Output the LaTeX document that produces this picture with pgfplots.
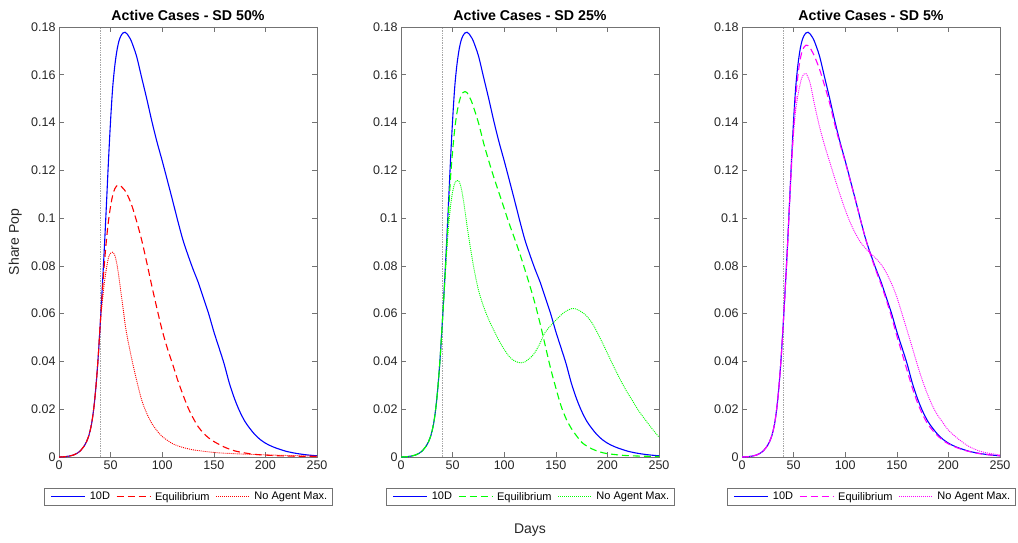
\documentclass[border=0pt]{standalone}
\usepackage{fontspec}
\setmainfont{Liberation Sans}
\usepackage{pgfplots}
\usepackage{pgfplotstable}
\pgfplotsset{compat=1.18}

% all curves share the rise up to day 40
\pgfplotstableread{
x y
0 0
5 0.0001
10 0.0004
15 0.0010
20 0.0023
25 0.0050
28 0.0078
30 0.0107
32 0.0150
34 0.0215
36 0.0305
38 0.0420
40 0.0560
42 0.0715
44 0.0880
46 0.1060
48 0.1245
50 0.1410
52 0.1545
54 0.1635
56 0.1698
58 0.1740
60 0.1763
62 0.1775
64 0.1778
66 0.1771
68 0.1758
70 0.1742
75 0.1680
80 0.1590
85 0.1500
90 0.1405
95 0.1318
100 0.1240
105 0.1158
110 0.1075
115 0.0990
120 0.0910
125 0.0845
130 0.0785
135 0.0730
140 0.0665
145 0.0600
150 0.0525
155 0.0458
160 0.0390
165 0.0310
170 0.0245
175 0.0192
180 0.0150
185 0.0119
190 0.0093
195 0.0073
200 0.0058
205 0.0047
210 0.0038
220 0.0024
230 0.0015
240 0.0009
250 0.0005
}\tendD

\pgfplotstableread{
x y
0 0
5 0.0001
10 0.0004
15 0.0010
20 0.0023
25 0.0050
28 0.0078
30 0.0107
32 0.0150
34 0.0215
36 0.0305
38 0.0420
40 0.0560
42 0.0690
44 0.0810
46 0.0910
48 0.0990
50 0.1050
52 0.1095
54 0.1122
56 0.1135
58 0.1138
60 0.1134
62 0.1125
65 0.1108
70 0.1060
75 0.0990
80 0.0910
85 0.0815
90 0.0715
95 0.0620
100 0.0530
105 0.0455
110 0.0390
115 0.0322
120 0.0262
125 0.0207
130 0.0163
135 0.0126
140 0.0100
145 0.0080
150 0.0065
160 0.0042
170 0.0026
180 0.0017
190 0.0011
200 0.0008
220 0.0004
250 0.0002
}\eqA

\pgfplotstableread{
x y
0 0
5 0.0001
10 0.0004
15 0.0010
20 0.0023
25 0.0050
28 0.0078
30 0.0107
32 0.0150
34 0.0215
36 0.0305
38 0.0420
40 0.0560
42 0.0650
44 0.0730
46 0.0790
48 0.0835
50 0.0853
52 0.0857
54 0.0845
56 0.0810
58 0.0755
60 0.0690
62 0.0625
65 0.0530
70 0.0420
75 0.0325
80 0.0240
85 0.0183
90 0.0140
95 0.0110
100 0.0086
110 0.0056
120 0.0040
130 0.0030
140 0.0024
150 0.0019
160 0.0016
180 0.0012
200 0.0009
225 0.0006
250 0.0004
}\namA

\pgfplotstableread{
x y
0 0
5 0.0001
10 0.0004
15 0.0010
20 0.0023
25 0.0050
28 0.0078
30 0.0107
32 0.0150
34 0.0215
36 0.0305
38 0.0420
40 0.0560
42 0.0705
44 0.0860
46 0.1020
48 0.1170
50 0.1280
52 0.1370
54 0.1435
56 0.1480
58 0.1510
60 0.1525
62 0.1530
64 0.1525
66 0.1510
68 0.1492
70 0.1468
75 0.1400
80 0.1315
85 0.1240
90 0.1170
95 0.1105
100 0.1040
105 0.0975
110 0.0915
115 0.0853
120 0.0785
125 0.0715
130 0.0640
135 0.0555
140 0.0462
145 0.0370
150 0.0290
155 0.0215
160 0.0160
165 0.0120
170 0.0089
176 0.0058
185 0.0034
193 0.0021
200 0.0014
215 0.0007
230 0.0004
250 0.0002
}\eqB

\pgfplotstableread{
x y
0 0
5 0.0001
10 0.0004
15 0.0010
20 0.0023
25 0.0050
28 0.0078
30 0.0107
32 0.0150
34 0.0215
36 0.0305
38 0.0420
40 0.0560
42 0.0700
44 0.0840
46 0.0960
48 0.1050
50 0.1110
52 0.1145
54 0.1158
56 0.1156
58 0.1132
60 0.1088
62 0.1030
65 0.0938
70 0.0805
75 0.0700
80 0.0630
85 0.0575
90 0.0530
95 0.0487
100 0.0450
105 0.0420
110 0.0402
116 0.0394
120 0.0398
128 0.0427
134 0.0470
139 0.0517
145 0.0550
150 0.0573
158 0.0605
166 0.0622
172 0.0615
179 0.0594
185 0.0562
189 0.0531
195 0.0480
200 0.0434
206 0.0380
211 0.0336
218 0.0280
224 0.0238
230 0.0195
237 0.0154
243 0.0120
250 0.0083
}\namB

\pgfplotstableread{
x y
0 0
5 0.0001
10 0.0004
15 0.0010
20 0.0023
25 0.0050
28 0.0078
30 0.0107
32 0.0150
34 0.0215
36 0.0305
38 0.0420
40 0.0560
42 0.0712
44 0.0875
46 0.1050
48 0.1220
50 0.1370
52 0.1500
54 0.1590
56 0.1655
58 0.1695
60 0.1715
62 0.1724
64 0.1722
66 0.1712
68 0.1697
70 0.1680
75 0.1625
80 0.1555
85 0.1480
90 0.1390
95 0.1310
100 0.1235
105 0.1155
110 0.1075
115 0.0990
120 0.0910
125 0.0840
130 0.0778
135 0.0720
140 0.0655
145 0.0585
150 0.0508
155 0.0435
160 0.0362
165 0.0290
170 0.0228
175 0.0178
180 0.0138
185 0.0110
190 0.0087
195 0.0069
200 0.0055
210 0.0036
220 0.0023
230 0.0014
240 0.0009
250 0.0005
}\eqC

\pgfplotstableread{
x y
0 0
5 0.0001
10 0.0004
15 0.0010
20 0.0023
25 0.0050
28 0.0078
30 0.0107
32 0.0150
34 0.0215
36 0.0305
38 0.0420
40 0.0560
42 0.0710
44 0.0860
46 0.1060
48 0.1240
50 0.1360
52 0.1450
54 0.1510
56 0.1555
58 0.1588
60 0.1603
62 0.1605
64 0.1590
66 0.1565
68 0.1525
70 0.1480
75 0.1385
80 0.1305
85 0.1235
90 0.1165
95 0.1098
100 0.1035
105 0.0980
110 0.0935
115 0.0898
120 0.0872
125 0.0850
130 0.0830
135 0.0805
140 0.0770
145 0.0725
150 0.0670
155 0.0600
160 0.0530
165 0.0458
170 0.0385
175 0.0318
180 0.0260
185 0.0210
190 0.0172
195 0.0142
200 0.0112
210 0.0074
220 0.0044
230 0.0025
240 0.0015
250 0.0009
}\namC

\definecolor{mblue}{rgb}{0,0,1}
\definecolor{mred}{rgb}{1,0,0}
\definecolor{mgreen}{rgb}{0,1,0}
\definecolor{mmag}{rgb}{1,0,1}

\pgfplotsset{
  panel/.style={
    scale only axis, width=258pt, height=430pt, anchor=south west,
    xmin=0, xmax=250, ymin=0, ymax=0.18,
    xtick={0,50,100,150,200,250},
    ytick={0,0.02,0.04,0.06,0.08,0.1,0.12,0.14,0.16,0.18},
    yticklabels={0,0.02,0.04,0.06,0.08,0.1,0.12,0.14,0.16,0.18},
    tick align=inside, major tick length=5pt,
    axis line style={draw=black!55, line width=0.6pt},
    every tick/.style={draw=black!55, line width=0.6pt},
    tick label style={font=\fontsize{12.5}{15}\selectfont, text=black!85},
    /pgf/number format/assume math mode=true,
    title style={font=\bfseries\fontsize{14.2}{16}\selectfont, yshift=-3.5pt},
    legend columns=3,
    legend cell align=left,
    legend style={at={(0.5,-0.072)}, anchor=north, draw=black!55,
      font=\fontsize{11}{13}\selectfont},
    % sample line 34pt long, with blank room before and after it
    legend image code/.code={\path (-4pt,0pt); \draw[#1] (0pt,0pt) -- (34pt,0pt); \path (36pt,0pt);},
  },
  vline/.style={draw=black!35, line width=0.5pt, dash pattern=on 0.6pt off 1.1pt, forget plot},
  solidl/.style={line width=1.1pt, solid},
  dashl/.style={line width=1.1pt, dash pattern=on 7pt off 4pt},
  dotl/.style={line width=0.9pt, dash pattern=on 1pt off 1pt},
}

\begin{document}
\begin{tikzpicture}
\useasboundingbox (0,0) rectangle (1018pt,542pt);

\begin{axis}[panel, at={(59pt,85pt)}, title={Active Cases - SD 50\%},
  ylabel={Share Pop},
  ylabel style={at={(axis description cs:-0.17,0.5)}, anchor=center, font=\fontsize{14}{16}\selectfont, text=black!85}]
\addplot[vline] coordinates {(40,0) (40,0.18)};
\addplot[mblue, solidl, smooth] table {\tendD};
\addplot[mred, dashl, smooth] table {\eqA};
\addplot[mred, dotl, smooth] table {\namA};
\legend{10D, Equilibrium, No Agent Max.}
\end{axis}

\begin{axis}[panel, at={(401pt,85pt)}, title={Active Cases - SD 25\%},
  xlabel={Days},
  xlabel style={at={(axis description cs:0.5,-0.17)}, anchor=center, font=\fontsize{14}{16}\selectfont, text=black!85}]
\addplot[vline] coordinates {(40,0) (40,0.18)};
\addplot[mblue, solidl, smooth] table {\tendD};
\addplot[mgreen, dashl, smooth] table {\eqB};
\addplot[mgreen, dotl, smooth] table {\namB};
\legend{10D, Equilibrium, No Agent Max.}
\end{axis}

\begin{axis}[panel, at={(742pt,85pt)}, title={Active Cases - SD 5\%}]
\addplot[vline] coordinates {(40,0) (40,0.18)};
\addplot[mblue, solidl, smooth] table {\tendD};
\addplot[mmag, dashl, smooth] table {\eqC};
\addplot[mmag, dotl, smooth] table {\namC};
\legend{10D, Equilibrium, No Agent Max.}
\end{axis}
\end{tikzpicture}
\end{document}
